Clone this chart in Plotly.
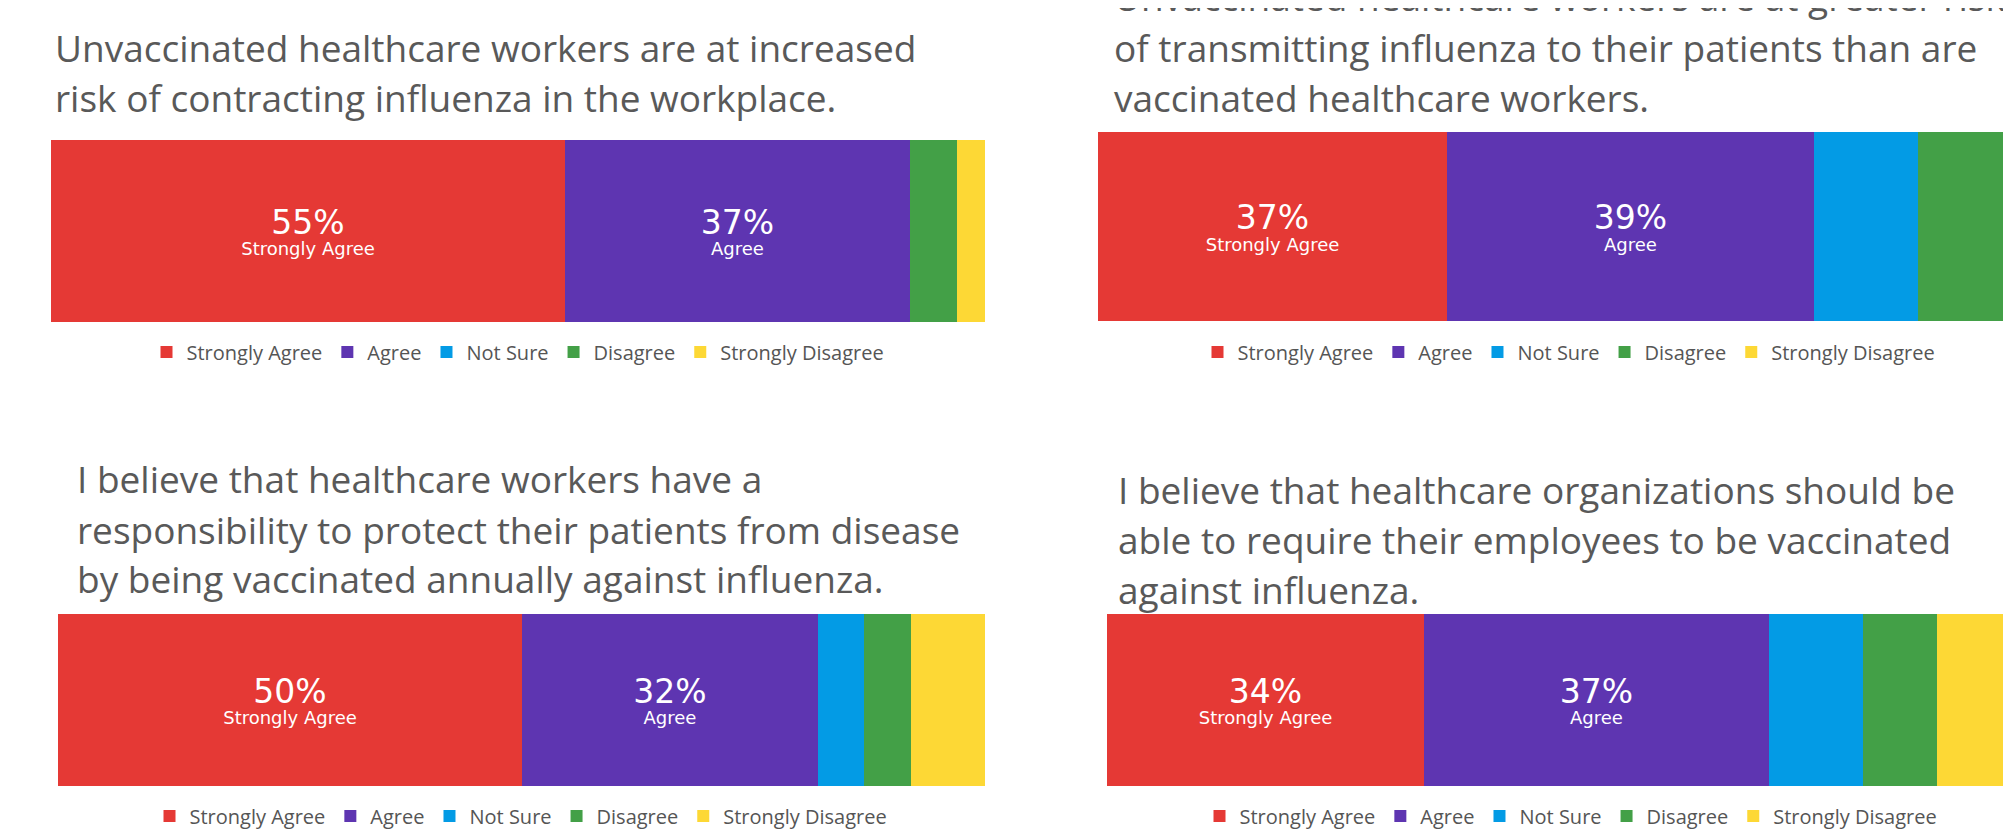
import plotly.graph_objects as go

W, H = 2011, 838
PAGE_MARGIN = 8  # the html body adds 8px around the figure

categories = ["Strongly Agree", "Agree", "Not Sure", "Disagree", "Strongly Disagree"]
colors = ["#E53935", "#5E35B1", "#039BE5", "#43A047", "#FDD835"]

# percentage of respondents per answer, one list per statement
q1_values = [55, 37, 0, 5, 3]
q2_values = [37, 39, 11, 10, 3]
q3_values = [50, 32, 5, 5, 8]
q4_values = [34, 37, 10, 8, 11]

q1_title = ["Unvaccinated healthcare workers are at increased",
            "risk of contracting influenza in the workplace."]
q2_title = ["Unvaccinated healthcare workers are at greater risk",
            "of transmitting influenza to their patients than are",
            "vaccinated healthcare workers."]
q3_title = ["I believe that healthcare workers have a",
            "responsibility to protect their patients from disease",
            "by being vaccinated annually against influenza."]
q4_title = ["I believe that healthcare organizations should be",
            "able to require their employees to be vaccinated",
            "against influenza."]

# only the two largest answers carry a label inside the bar
labelled = ["Strongly Agree", "Agree"]


def fx(px):
    return (px - PAGE_MARGIN) / W


def fy(px):
    return 1 - (px - PAGE_MARGIN) / H


# panel layout in page pixels: bar left/right (right may run off the page), bar top/bottom,
# title x, title baselines, legend centre
panels = [
    dict(values=q1_values, title=q1_title, x0=51, x1=985, y0=140, y1=322,
         tx=53, base=[58, 108], lx=518, ly=352),
    dict(values=q2_values, title=q2_title, x0=1098, x1=2040, y0=132, y1=321,
         tx=1112, base=[8, 58, 108], lx=1569, ly=352),
    dict(values=q3_values, title=q3_title, x0=58, x1=985, y0=614, y1=786,
         tx=75, base=[490, 540, 589], lx=521, ly=816),
    dict(values=q4_values, title=q4_title, x0=1107, x1=2040, y0=614, y1=786,
         tx=1116, base=[501, 550, 600], lx=1571, ly=816),
]

fig = go.Figure()
annotations = []
layout_extra = {}

for i, p in enumerate(panels):
    n = i + 1
    sfx = "" if n == 1 else str(n)
    legend_id = "legend" + sfx

    for cat, val, col in zip(categories, p["values"], colors):
        text = ""
        if cat in labelled:
            text = (f"<span style='font-size:33px;baseline-shift:-2px'>{val}%</span>"
                    f"<br>{cat}")
        fig.add_trace(go.Bar(
            x=[val], y=[""], orientation="h",
            name=cat, legend=legend_id,
            marker=dict(color=col, line=dict(width=0)),
            text=[text], textposition="inside", insidetextanchor="middle",
            constraintext="none", textangle=0,
            insidetextfont=dict(family="DejaVu Sans", size=18, color="white"),
            hoverinfo="skip",
            xaxis="x" + sfx, yaxis="y" + sfx,
        ))

    # right-hand panels are cropped at the page edge
    right = min(p["x1"], W + PAGE_MARGIN)
    visible = (right - p["x0"]) / (p["x1"] - p["x0"])
    layout_extra["xaxis" + sfx] = dict(
        domain=[fx(p["x0"]), fx(right)], range=[0, sum(p["values"]) * visible],
        visible=False, fixedrange=True, anchor="y" + sfx,
    )
    layout_extra["yaxis" + sfx] = dict(
        domain=[fy(p["y1"]), fy(p["y0"])], range=[-0.5, 0.5],
        visible=False, fixedrange=True, anchor="x" + sfx,
    )
    layout_extra[legend_id] = dict(
        orientation="h", x=fx(p["lx"]), xanchor="center",
        y=fy(p["ly"]), yanchor="middle",
        font=dict(family="Open Sans", size=20, color="#555555"),
        bgcolor="rgba(0,0,0,0)", itemclick=False, itemdoubleclick=False,
        traceorder="normal",
    )

    for line, base in zip(p["title"], p["base"]):
        annotations.append(dict(
            text=line, xref="paper", yref="paper",
            x=fx(p["tx"]), xanchor="left",
            y=fy(base - 11), yanchor="middle",
            showarrow=False,
            font=dict(family="Open Sans", size=37, color="#595959"),
        ))

fig.update_layout(
    width=W, height=H,
    margin=dict(l=0, r=0, t=0, b=0),
    paper_bgcolor="white", plot_bgcolor="white",
    barmode="stack", bargap=0,
    annotations=annotations,
    **layout_extra,
)

fig.write_html("out.html")
